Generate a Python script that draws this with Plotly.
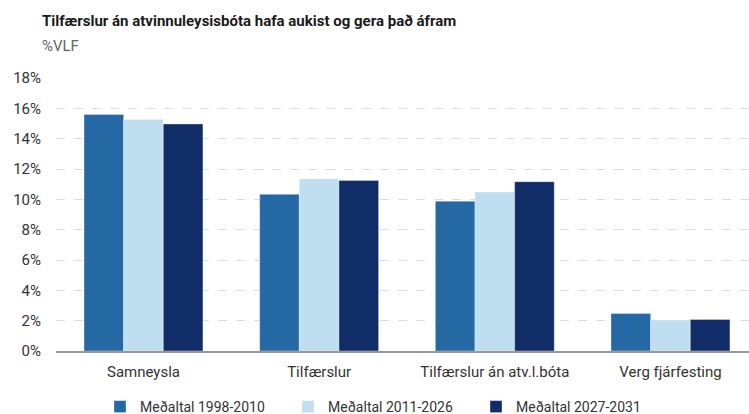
import plotly.graph_objects as go

categories = ["Samneysla", "Tilfærslur", "Tilfærslur án atv.l.bóta", "Verg fjárfesting"]
series_names = ["Meðaltal 1998-2010", "Meðaltal 2011-2026", "Meðaltal 2027-2031"]
values_1998_2010 = [15.6, 10.33, 9.88, 2.48]
values_2011_2026 = [15.27, 11.36, 10.48, 2.04]
values_2027_2031 = [14.97, 11.25, 11.16, 2.08]
colors = ["#2469A4", "#BFDEF0", "#112D68"]
y_ticks = [0, 2, 4, 6, 8, 10, 12, 14, 16, 18]
y_tick_labels = [f"{v}%" for v in y_ticks]

# body margin is removed in the page; the figure extends slightly below the
# visible window so the bottom legend does not squeeze the plot area
W, H = 749, 432
L, R, T, B = 56, 0, 78, 432 - 351
legend_ids = ["legend", "legend2", "legend3"]
legend_px = [100, 288, 476]

fig = go.Figure()
for name, vals, col, lid in zip(series_names, [values_1998_2010, values_2011_2026, values_2027_2031], colors, legend_ids):
    fig.add_trace(go.Bar(
        x=categories, y=vals, name=name, legend=lid,
        marker=dict(color=col, line=dict(color="rgba(255,255,255,0.35)", width=1)),
        hoverinfo="skip",
    ))

plot_w = W - L - R
plot_h = H - T - B
legend_y = (351 - 407) / plot_h
legend_common = dict(orientation="h", yanchor="middle", xanchor="left",
                     font=dict(size=14, color="#333333"), bgcolor="rgba(0,0,0,0)")
legends = {}
for lid, px in zip(legend_ids, legend_px):
    legends[lid] = dict(x=(px - L) / plot_w, y=legend_y, **legend_common)

fig.update_layout(
    width=W, height=H,
    margin=dict(l=L, r=R, t=T, b=B),
    paper_bgcolor="white", plot_bgcolor="white",
    barmode="group", bargap=0.323, bargroupgap=0,
    font=dict(family="Roboto", size=15, color="#333333"),
    showlegend=True,
    **legends,
    annotations=[
        dict(text="<b>Tilfærslur án atvinnuleysisbóta hafa aukist og gera það áfram</b>",
             xref="paper", yref="paper", x=(40 - L) / plot_w, y=1 + (T - 21) / plot_h,
             xanchor="left", yanchor="middle", showarrow=False,
             font=dict(family="Roboto", size=15, color="#1a1a1a")),
        dict(text="%VLF",
             xref="paper", yref="paper", x=(40 - L) / plot_w, y=1 + (T - 46) / plot_h,
             xanchor="left", yanchor="middle", showarrow=False,
             font=dict(family="Roboto", size=15, color="#666666")),
    ],
)
fig.update_xaxes(
    range=[-0.498, 3.447], showgrid=False, showline=True, linecolor="#999999", linewidth=2,
    ticks="", tickfont=dict(size=15, color="#333333"), ticklabelstandoff=6,
)
fig.update_yaxes(
    range=[0, 18], tickvals=y_ticks, ticktext=y_tick_labels, showgrid=True,
    gridcolor="#dddddd", griddash="dash", gridwidth=1, zeroline=False, showline=False,
    tickfont=dict(size=15, color="#333333"), ticklabelstandoff=14,
)

fig.write_html(
    "out.html",
    config={"displayModeBar": False},
    post_script="document.body.style.margin='0';document.body.style.overflow='hidden';",
)
